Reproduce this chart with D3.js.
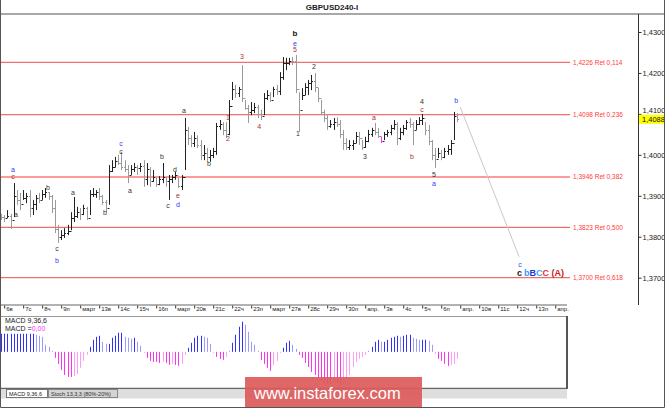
<!DOCTYPE html>
<html><head><meta charset="utf-8">
<script src="https://cdn.jsdelivr.net/npm/d3@7"></script>
<style>body{margin:0;background:#fff}svg{display:block}text{font-family:"Liberation Sans",Arial,sans-serif}</style>
</head><body><svg id="c" width="665" height="408"></svg>
<script>
// ---------- DATA ----------
const symbol = "GBPUSD240-I";
const highs = [1.3856,1.3853,1.3865,1.3856,1.3931,1.3914,1.3907,1.3914,1.3907,1.3914,1.3890,1.3902,1.3907,1.3914,1.3919,1.3909,1.3902,1.3890,1.3829,1.3816,
1.3821,1.3829,1.3860,1.3897,1.3873,1.3870,1.3878,1.3873,1.3914,1.3919,1.3914,1.3919,1.3902,1.3890,1.3975,1.3987,1.3995,1.4000,1.4007,1.3987,
1.3975,1.3975,1.3980,1.3975,1.3980,1.3987,1.3980,1.3970,1.3963,1.3944,1.3948,1.3980,1.3946,1.3951,1.3951,1.3958,1.3944,1.3951,1.4090,1.4068,
1.4048,1.4056,1.4048,1.4036,1.4024,1.4017,1.4012,1.4017,1.4078,1.4085,1.4080,1.4080,1.4134,1.4178,1.4171,1.4166,1.4219,1.4134,1.4122,1.4129,
1.4127,1.4122,1.4110,1.4151,1.4158,1.4153,1.4166,1.4171,1.4202,1.4239,1.4237,1.4237,1.4239,1.4244,1.4153,1.4163,1.4175,1.4183,1.4195,1.4200,
1.4163,1.4134,1.4110,1.4097,1.4085,1.4090,1.4092,1.4085,1.4061,1.4041,1.4036,1.4036,1.4056,1.4056,1.4036,1.4044,1.4061,1.4066,1.4078,1.4066,
1.4044,1.4056,1.4061,1.4073,1.4085,1.4080,1.4066,1.4073,1.4085,1.4090,1.4080,1.4085,1.4092,1.4100,1.4080,1.4073,1.4036,1.4017,1.4017,1.4012,
1.4017,1.4024,1.4036,1.4105,1.4102];
const lows = [1.3841,1.3836,1.3846,1.3819,1.3848,1.3878,1.3865,1.3890,1.3882,1.3848,1.3853,1.3865,1.3882,1.3890,1.3895,1.3890,1.3858,1.3809,1.3785,1.3792,
1.3797,1.3804,1.3816,1.3836,1.3846,1.3841,1.3853,1.3841,1.3853,1.3897,1.3895,1.3890,1.3878,1.3860,1.3878,1.3958,1.3970,1.3975,1.3963,1.3958,
1.3931,1.3951,1.3958,1.3951,1.3958,1.3922,1.3926,1.3922,1.3934,1.3922,1.3926,1.3931,1.3922,1.3890,1.3931,1.3939,1.3919,1.3914,1.3963,1.4024,
1.4019,1.4019,1.4017,1.3987,1.3987,1.3983,1.3983,1.3992,1.4000,1.4061,1.4048,1.4041,1.4048,1.4134,1.4139,1.4141,1.4129,1.4110,1.4078,1.4097,
1.4102,1.4090,1.4085,1.4097,1.4134,1.4129,1.4141,1.4146,1.4146,1.4183,1.4207,1.4219,1.4219,1.4151,1.4056,1.4134,1.4146,1.4146,1.4158,1.4153,
1.4129,1.4097,1.4080,1.4061,1.4066,1.4061,1.4068,1.4041,1.4012,1.4012,1.4012,1.4012,1.4029,1.4024,1.4012,1.4017,1.4031,1.4044,1.4048,1.4041,
1.4029,1.4036,1.4044,1.4048,1.4061,1.4024,1.4036,1.4048,1.4061,1.4066,1.4024,1.4061,1.4073,1.4073,1.4048,1.4024,1.3987,1.3968,1.3992,1.3987,
1.3992,1.4000,1.4000,1.4036,1.4080];
const closes = [1.3848,1.3845,1.3850,1.3840,1.3900,1.3890,1.3880,1.3895,1.3900,1.3870,1.3880,1.3895,1.3890,1.3905,1.3910,1.3900,1.3870,1.3820,1.3800,1.3805,
1.3810,1.3815,1.3845,1.3850,1.3860,1.3855,1.3870,1.3845,1.3905,1.3905,1.3910,1.3900,1.3885,1.3870,1.3960,1.3970,1.3985,1.3980,1.3970,1.3965,
1.3950,1.3965,1.3970,1.3968,1.3972,1.3940,1.3965,1.3935,1.3945,1.3930,1.3940,1.3945,1.3935,1.3940,1.3945,1.3950,1.3925,1.3945,1.4060,1.4040,
1.4030,1.4040,1.4025,1.4000,1.4005,1.3995,1.4000,1.4010,1.4070,1.4075,1.4060,1.4050,1.4120,1.4160,1.4150,1.4160,1.4140,1.4115,1.4105,1.4110,
1.4118,1.4100,1.4095,1.4140,1.4145,1.4135,1.4160,1.4155,1.4190,1.4225,1.4225,1.4230,1.4228,1.4160,1.4110,1.4145,1.4165,1.4175,1.4180,1.4165,
1.4140,1.4105,1.4090,1.4070,1.4075,1.4080,1.4075,1.4050,1.4030,1.4020,1.4025,1.4030,1.4045,1.4040,1.4020,1.4035,1.4050,1.4060,1.4055,1.4045,
1.4035,1.4050,1.4055,1.4065,1.4075,1.4040,1.4055,1.4065,1.4080,1.4075,1.4060,1.4075,1.4085,1.4090,1.4060,1.4035,1.4000,1.3990,1.4005,1.3995,
1.4010,1.4015,1.4030,1.4095,1.4088];
const firstOpen = 1.3850;
const highlightBar = 120;          // magenta bar
const lastPrice = 1.4088;

const macd = [0.0018,0.0018,0.0018,0.0018,0.0018,0.0018,0.0018,0.0018,0.0018,0.0018,0.0018,0.0017,0.0016,0.0015,0.0007,0.0005,0.0001,
-0.0006,-0.0012,-0.0018,-0.0023,-0.0025,-0.0025,-0.0024,-0.0022,-0.0016,-0.0009,-0.0003,
0.0005,0.0012,0.0015,0.0016,0.0010,0.0008,0.0008,0.0014,0.0016,0.0019,0.0019,0.0015,0.0014,0.0013,0.0014,0.0010,0.0006,
-0.0001,-0.0006,-0.0009,-0.0010,-0.0010,-0.0011,-0.0010,-0.0011,-0.0013,-0.0012,-0.0013,-0.0014,-0.0012,-0.0003,
0.0004,0.0009,0.0014,0.0016,0.0016,0.0015,0.0014,0.0008,
-0.0001,-0.0005,-0.0007,-0.0008,-0.0005,
0.0001,0.0009,0.0017,0.0025,0.0030,0.0027,0.0020,0.0010,0.0007,0.0001,
-0.0008,-0.0012,-0.0016,-0.0019,-0.0013,-0.0009,-0.0001,
0.0004,0.0009,0.0011,0.0007,0.0003,
-0.0003,-0.0006,-0.0011,-0.0015,-0.0020,-0.0023,-0.0026,-0.0029,-0.0031,-0.0032,-0.0032,-0.0030,-0.0031,-0.0033,-0.0032,-0.0027,-0.0023,-0.0015,-0.0010,-0.0007,-0.0005,-0.0003,
0.0001,0.0005,0.0010,0.0012,0.0010,0.0010,0.0012,0.0014,0.0015,0.0016,0.0015,0.0016,0.0017,0.0017,0.0014,0.0013,0.0012,0.0012,0.0012,0.0011,0.0007,
-0.0002,-0.0007,-0.0009,-0.0012,-0.0014,-0.0013,-0.0012,-0.0007];

const priceTicks = [1.37,1.38,1.39,1.40,1.41,1.42,1.43];
const fibLevels = [1.4226,1.4098,1.3946,1.3823,1.3700];
const fibRatios = ["0,114","0,236","0,382","0,500","0,618"];
const dayLabels = ["6в","7с","8ч","9п","март","13в","14с","15ч","16п","март","20в","21с","22ч","23п","март",
"27в","28с","29ч","30п","апр.","3в","4с","5ч","6п","апр.","10в","11с","12ч","13п","апр."];
const barsPerDay = 6;

// wave labels: [bar index, price, text, colour-class]
const waveLabels = [
[3.8,1.3965,"a","blue"],[3.8,1.3948,"c","red"],[4.7,1.3853,"a","dark"],[14.8,1.3919,"b","dark"],
[22.7,1.3907,"a","dark"],[17.7,1.3770,"c","dark"],[17.7,1.3743,"b","blue"],[32.8,1.3860,"b","dark"],
[37.9,1.4027,"c","blue"],[37.9,1.4009,"c","dark"],[40.7,1.3912,"a","dark"],[50.8,1.3995,"b","dark"],
[52.7,1.3875,"c","dark"],[54.9,1.3963,"d","dark"],[55.9,1.3900,"e","red"],[55.9,1.3878,"d","blue"],
[57.8,1.4107,"a","dark"],[65.7,1.3978,"b","dark"],[71.7,1.4092,"1","red"],[71.7,1.4039,"2","red"],
[76.1,1.4239,"3","red"],[81.5,1.4068,"4","red"],[92.8,1.4273,"e","blue"],[92.8,1.4256,"5","red"],
[93.8,1.4051,"1","navy"],[98.8,1.4215,"2","dark"],[114.9,1.3997,"3","dark"],[117.8,1.4090,"a","red"],
[129.8,1.3997,"b","red"],[132.9,1.4129,"4","dark"],[132.9,1.4110,"c","red"],[136.7,1.3953,"5","dark"],
[136.7,1.3931,"a","blue"],[143.7,1.4132,"b","blue"],[163.9,1.3731,"c","blue"]];
const bigWave = [92.8,1.4298,"b"];
const projection = [[145,1.4117],[163.6,1.3751]];
const targetIdx = 163.9, targetPrice = 1.3711;
const targetParts = [["c","#222"],["b","#3399ff"],["B","#2233dd"],["C","#33aaee"],["C","#ee3333"],[" (A)","#cc2222"]];

// ---------- DRAW ----------
const svg = d3.select("#c");
const x = d3.scaleLinear().domain([0, 200]).range([1, 634.4]);
const y = d3.scaleLinear().domain([1.37, 1.43]).range([277.7, 32]);
const fmt = v => d3.format(".4f")(v).replace(".", ",");
const colors = {blue:"#2b3bff", red:"#a83232", dark:"#333", navy:"#334"};

svg.append("rect").attr("width",665).attr("height",408).attr("fill","#fff");
svg.append("text").attr("x",332).attr("y",10).attr("text-anchor","middle")
  .attr("font-size","8px").attr("font-weight","bold").attr("fill","#222").text(symbol);
svg.append("line").attr("x1",0).attr("x2",665).attr("y1",14).attr("y2",14).attr("stroke","#a8a8a8").attr("stroke-width",2);

// fib lines
const fib = svg.append("g");
fibLevels.forEach((lv,i)=>{
  const light = i===2;
  fib.append("line").attr("x1",0).attr("x2",570).attr("y1",y(lv)).attr("y2",y(lv))
    .attr("stroke", light ? "#ff9a9a" : "#ee4b4b").attr("stroke-width", light ? 2 : 1);
  fib.append("text").attr("x",573).attr("y",y(lv)).attr("dy","0.35em").attr("font-size","6.5px")
    .attr("fill","#ff3b3b").text(fmt(lv)+" Ret "+fibRatios[i]);
});

// OHLC bars
const bars = svg.append("g");
closes.forEach((c,i)=>{
  const o = i===0 ? firstOpen : closes[i-1];
  const up = c >= o;
  const col = i===highlightBar ? "#ff33ff" : (up ? "#222" : "#9a9a9a");
  const cx = Math.round(x(i)) + 0.5;
  bars.append("line").attr("x1",cx).attr("x2",cx).attr("y1",y(highs[i])).attr("y2",y(lows[i])).attr("stroke",col);
  bars.append("line").attr("x1",cx-1.5).attr("x2",cx).attr("y1",Math.round(y(o))+0.5).attr("y2",Math.round(y(o))+0.5).attr("stroke",col);
  bars.append("line").attr("x1",cx).attr("x2",cx+1.5).attr("y1",Math.round(y(c))+0.5).attr("y2",Math.round(y(c))+0.5).attr("stroke",col);
});

// projection line
svg.append("line").attr("x1",x(projection[0][0])).attr("y1",y(projection[0][1]))
  .attr("x2",x(projection[1][0])).attr("y2",y(projection[1][1])).attr("stroke","#c8c8c8").attr("stroke-width",1);

// wave labels
const wl = svg.append("g");
waveLabels.forEach(d=>{
  wl.append("text").attr("x",x(d[0])).attr("y",y(d[1])).attr("dy","0.35em").attr("text-anchor","middle")
    .attr("font-size","7px").attr("fill",colors[d[3]]).text(d[2]);
});
wl.append("text").attr("x",x(bigWave[0])).attr("y",y(bigWave[1])).attr("dy","0.35em").attr("text-anchor","middle")
  .attr("font-size","8px").attr("font-weight","bold").attr("fill","#111").text(bigWave[2]);
const tt = wl.append("text").attr("x",x(targetIdx)-3).attr("y",y(targetPrice)).attr("dy","0.35em")
  .attr("font-size","9px").attr("font-weight","bold").attr("font-family","DejaVu Sans, sans-serif");
targetParts.forEach((p,i)=>tt.append("tspan").attr("fill",p[1]).attr("dx", i===1 ? 2 : 0).text(p[0]));

// price axis
svg.append("line").attr("x1",638.5).attr("x2",638.5).attr("y1",14).attr("y2",305).attr("stroke","#333");
const ya = svg.append("g").attr("transform","translate(638.5,0)")
  .call(d3.axisRight(y).tickValues(priceTicks).tickSize(3).tickPadding(1).tickFormat(fmt));
ya.select(".domain").remove();
ya.selectAll("text").attr("font-size","7.5px").attr("fill","#222").attr("font-family","Liberation Sans, Arial, sans-serif");
ya.selectAll("line").attr("stroke","#333");
// the tick label just above the current-price box is nudged up so the box does not hide it
ya.selectAll(".tick").filter(d=>Math.abs(y(d)-y(lastPrice))<10).select("text").attr("dy","-0.15em");
svg.append("rect").attr("x",639).attr("y",y(lastPrice)-4).attr("width",26).attr("height",9).attr("fill","#ffff00");
svg.append("text").attr("x",642).attr("y",y(lastPrice)+0.5).attr("dy","0.35em").attr("font-size","7.5px").attr("fill","#111").text(fmt(lastPrice));

// date axis
svg.append("line").attr("x1",0).attr("x2",567).attr("y1",305).attr("y2",305).attr("stroke","#999").attr("stroke-width",1.5);
const dayIdx = dayLabels.map((_,k)=>1+k*barsPerDay);
const xa = svg.append("g").attr("transform","translate(0,305.5)")
  .call(d3.axisBottom(x).tickValues(dayIdx).tickSize(3).tickFormat((d,k)=>dayLabels[k]));
xa.select(".domain").remove();
xa.selectAll("line").attr("stroke","#333");
xa.selectAll("text").attr("text-anchor","start").attr("x",1.5).attr("y",1).attr("dy","0.8em")
  .attr("font-size","6px").attr("fill","#222").attr("font-family","DejaVu Sans, sans-serif");

// MACD panel
const my = d3.scaleLinear().domain([-0.0036, 0.00347]).range([388, 317]);
svg.append("rect").attr("x",0.5).attr("y",316.5).attr("width",566).attr("height",72).attr("fill","#fff").attr("stroke","#999");
svg.append("line").attr("x1",567).attr("x2",567).attr("y1",316).attr("y2",389).attr("stroke","#555").attr("stroke-width",2);
svg.append("line").attr("x1",0).attr("x2",567).attr("y1",388.5).attr("y2",388.5).attr("stroke","#666").attr("stroke-width",1.5);
const mg = svg.append("g");
macd.forEach((v,i)=>{
  const prev = i===0 ? v : macd[i-1];
  const fading = Math.abs(v) < Math.abs(prev);
  const col = v >= 0 ? (fading ? "#9a9aff" : "#3030ff") : (fading ? "#ff9cf5" : "#ff33ee");
  const cx = Math.round(x(i)) + 0.5;
  mg.append("line").attr("x1",cx).attr("x2",cx).attr("y1",my(0)).attr("y2",my(v)).attr("stroke",col);
});
svg.append("text").attr("x",5).attr("y",323).attr("font-size","7px").attr("fill","#222").text("MACD 9,36,6");
const mt = svg.append("text").attr("x",5).attr("y",331).attr("font-size","7px").attr("fill","#222");
mt.append("tspan").text("MACD =");
mt.append("tspan").attr("fill","#ff33ff").text("0,00");

// tabs strip
svg.append("rect").attr("x",1).attr("y",389.5).attr("width",566).attr("height",9).attr("fill","#dedede");
svg.append("rect").attr("x",6.5).attr("y",389.5).attr("width",41).attr("height",8).attr("fill","#fff").attr("stroke","#777");
svg.append("text").attr("x",9).attr("y",396).attr("font-size","5.5px").attr("fill","#222").attr("font-family","DejaVu Sans, sans-serif").text("MACD 9,36,6");
svg.append("rect").attr("x",48.5).attr("y",389.5).attr("width",69).attr("height",8).attr("fill","#d4d4d4").attr("stroke","#888");
svg.append("text").attr("x",51).attr("y",396).attr("font-size","5.5px").attr("fill","#333").attr("font-family","DejaVu Sans, sans-serif").text("Stoch 13,3,3 (80%-20%)");

// watermark
svg.append("rect").attr("x",245).attr("y",377).attr("width",177).attr("height",30).attr("fill","#dd5a5a").attr("opacity",0.92);
svg.append("text").attr("x",254).attr("y",398.5).attr("font-size","16.5px").attr("fill","#fff").text("www.instaforex.com");

// outer border
svg.append("path").attr("d","M0.5,0 V407.5 H664.5 V0").attr("fill","none").attr("stroke","#555");
</script></body></html>
